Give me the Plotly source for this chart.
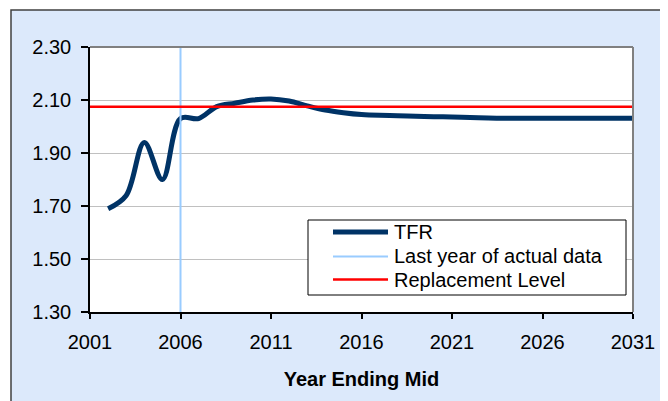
import plotly.graph_objects as go

years = list(range(2002, 2032))
tfr = [1.69, 1.74, 1.94, 1.80, 2.03, 2.03, 2.075, 2.088, 2.10, 2.104,
       2.096, 2.078, 2.062, 2.052, 2.045, 2.042, 2.041, 2.039, 2.037, 2.036,
       2.034, 2.032, 2.031, 2.031, 2.031, 2.031, 2.031, 2.031, 2.031, 2.031]
last_actual_year = 2006
replacement_level = 2.075
x_range = [2001, 2031]
y_range = [1.30, 2.30]
series_names = ["TFR", "Last year of actual data", "Replacement Level"]
series_colors = ["#003366", "#99CCFF", "#FF0000"]
series_widths = [5, 2, 2.5]

FONT = "Liberation Sans, Arial, sans-serif"
fig = go.Figure()
fig.add_trace(go.Scatter(x=years, y=tfr, mode="lines", name=series_names[0],
                         line=dict(color=series_colors[0], width=series_widths[0],
                                   shape="spline", smoothing=1.0)))
fig.add_trace(go.Scatter(x=[last_actual_year, last_actual_year], y=y_range, mode="lines",
                         name=series_names[1],
                         line=dict(color=series_colors[1], width=series_widths[1])))
fig.add_trace(go.Scatter(x=x_range, y=[replacement_level, replacement_level], mode="lines",
                         name=series_names[2],
                         line=dict(color=series_colors[2], width=series_widths[2])))

# plot area in screen pixels: x 90..633, y 47..312
PL, PR, PT, PB = 90, 633, 47, 312
pw, ph = PR - PL, PB - PT
def px(x):
    return (x - PL) / pw
def py(y):
    return (PB - y) / ph

OFF = 8  # page offset of the figure in the window
shapes = [
    dict(type="rect", xref="paper", yref="paper", layer="below",
         x0=px(11), x1=px(661), y0=py(420), y1=py(10),
         fillcolor="#DCE9FB", line=dict(color="#404040", width=1.5)),
    dict(type="rect", xref="paper", yref="paper", layer="below",
         x0=0, x1=1, y0=0, y1=1, fillcolor="white", line=dict(width=0)),
    dict(type="line", xref="paper", yref="paper", x0=0, x1=1, y0=1, y1=1,
         line=dict(color="#808080", width=2)),
    dict(type="line", xref="paper", yref="paper", x0=1, x1=1, y0=0, y1=1,
         line=dict(color="#808080", width=2)),
    # legend box
    dict(type="rect", xref="paper", yref="paper",
         x0=px(308), x1=px(626), y0=py(295), y1=py(220),
         fillcolor="white", line=dict(color="black", width=1)),
]
annotations = []
row_y = [232, 256.5, 279.5]
for name, col, w, ry in zip(series_names, series_colors, series_widths, row_y):
    shapes.append(dict(type="line", xref="paper", yref="paper",
                       x0=px(333), x1=px(388), y0=py(ry), y1=py(ry),
                       line=dict(color=col, width=w)))
    annotations.append(dict(xref="paper", yref="paper", x=px(392), y=py(ry),
                            xanchor="left", yanchor="middle", showarrow=False,
                            text=name, font=dict(size=20, color="black")))

fig.update_layout(
    width=668, height=401,
    margin=dict(l=PL - OFF, r=668 - PR + OFF, t=PT - OFF, b=401 - PB + OFF),
    paper_bgcolor="white", plot_bgcolor="white",
    font=dict(family=FONT, size=20, color="black"),
    showlegend=False,
    shapes=shapes,
    annotations=annotations,
    xaxis=dict(range=x_range, tick0=2001, dtick=5, showgrid=False, zeroline=False,
               showline=True, linecolor="black", linewidth=1.5,
               ticks="outside", ticklen=5, tickcolor="black", tickwidth=1.5,
               ticklabelstandoff=6,
               title=dict(text="<b>Year Ending Mid</b>", font=dict(size=20), standoff=20)),
    yaxis=dict(range=y_range, dtick=0.2, tick0=1.3, tickformat=".2f",
               showgrid=True, gridcolor="#C0C0C0", gridwidth=1, zeroline=False,
               showline=True, linecolor="black", linewidth=1.5,
               ticks="outside", ticklen=7, tickcolor="black", tickwidth=1.5,
               ticklabelstandoff=6),
)
fig.write_html("out.html")
